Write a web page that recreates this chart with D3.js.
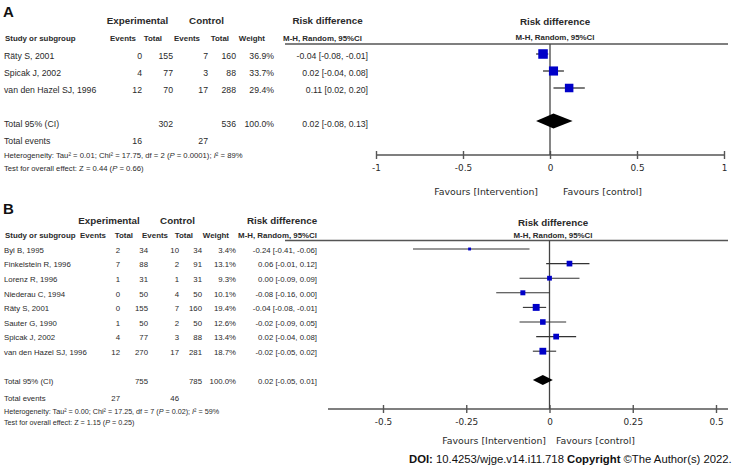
<!DOCTYPE html>
<html><head><meta charset="utf-8">
<script src="https://cdn.jsdelivr.net/npm/d3@7"></script>
<style>body{margin:0;background:#fff} svg{display:block}</style>
</head><body><svg id="c" width="734" height="470"></svg>
<script>
// ---------- Panel A data ----------
const studiesA = ["Räty S, 2001", "Spicak  J, 2002", "van den Hazel SJ, 1996"];
const expEventsA = [0, 4, 12];
const expTotalA = [155, 77, 70];
const ctrlEventsA = [7, 3, 17];
const ctrlTotalA = [160, 88, 288];
const weightA = [36.9, 33.7, 29.4];
const rdA = [-0.04, 0.02, 0.11];
const ciLowA = [-0.08, -0.04, 0.02];
const ciHighA = [-0.01, 0.08, 0.20];
const totalsA = [302, 536];
const totalEventsA = [16, 27];
const pooledA = [0.02, -0.08, 0.13];       // printed estimate [low, high]
const pooledMarkA = [0.02, -0.08, 0.13];   // drawn diamond
const hetA = ["0.01", "17.75", "2", "0.0001", "89%"];
const overallA = ["0.44", "0.66"];
const ticksA = [-1, -0.5, 0, 0.5, 1];

// ---------- Panel B data ----------
const studiesB = ["Byl B, 1995", "Finkelstein R, 1996", "Lorenz R, 1996", "Niederau C, 1994",
  "Räty S, 2001", "Sauter G, 1990", "Spicak J, 2002", "van den Hazel SJ, 1996"];
const expEventsB = [2, 7, 1, 0, 0, 1, 4, 12];
const expTotalB = [34, 88, 31, 50, 155, 50, 77, 270];
const ctrlEventsB = [10, 2, 1, 4, 7, 2, 3, 17];
const ctrlTotalB = [34, 91, 31, 50, 160, 50, 88, 281];
const weightB = [3.4, 13.1, 9.3, 10.1, 19.4, 12.6, 13.4, 18.7];
const rdB = [-0.24, 0.06, 0.00, -0.08, -0.04, -0.02, 0.02, -0.02];
const ciLowB = [-0.41, -0.01, -0.09, -0.16, -0.08, -0.09, -0.04, -0.05];
const ciHighB = [-0.06, 0.12, 0.09, 0.00, -0.01, 0.05, 0.08, 0.02];
const totalsB = [755, 785];
const totalEventsB = [27, 46];
const pooledB = [0.02, -0.05, 0.01];
const pooledMarkB = [-0.02, -0.05, 0.01];
const hetB = ["0.00", "17.25", "7", "0.02", "59%"];
const overallB = ["1.15", "0.25"];
const ticksB = [-0.5, -0.25, 0, 0.25, 0.5];

const svg = d3.select("#c");
const TXT = "#2a2a2a";
const BODY = "'Liberation Sans', Arial, sans-serif";
const AXF = "'DejaVu Sans', Verdana, sans-serif";
const sq = d3.scaleSqrt().domain([0, 100]).range([0, 15.7]);
const f2 = v => v.toFixed(2);
const ciText = (e, l, h) => `${f2(e)} [${f2(l)}, ${f2(h)}]`;

function text(g, x, y, s, o = {}) {
  return g.append("text").attr("x", x).attr("y", y).text(s)
    .attr("font-family", o.family || BODY).attr("font-size", o.size || 8.5)
    .attr("font-weight", o.bold ? "bold" : null)
    .attr("text-anchor", o.anchor || "start").attr("fill", o.fill || TXT);
}

function panel(d, L) {
  const g = svg.append("g");
  text(g, 3, L.letterY, d.letter, {size: 15, bold: true, fill: "#111"});
  // group headers
  text(g, L.grp[0], L.groupY, "Experimental", {size: 9.8, bold: true, anchor: "middle"});
  text(g, L.grp[1], L.groupY, "Control", {size: 9.8, bold: true, anchor: "middle"});
  text(g, L.grp[2], L.groupY, "Risk difference", {size: 9.8, bold: true, anchor: "middle"});
  text(g, 5, L.subY, "Study or subgroup", {size: 7.9, bold: true});
  ["Events", "Total", "Events", "Total", "Weight"].forEach((s, i) =>
    text(g, L.sub[i], L.subY, s, {size: 7.9, bold: true, anchor: "end"}));
  text(g, L.sub[5], L.subY, "M-H, Random, 95%Cl", {size: 7.9, bold: true, anchor: "end"});
  g.append("line").attr("x1", L.lineX0).attr("x2", 728).attr("y1", L.lineY).attr("y2", L.lineY)
    .attr("stroke", "#555").attr("stroke-width", 1.4);

  // plot headers
  text(g, L.plotHX, L.plotGroupY, "Risk difference", {size: 9.8, bold: true, anchor: "middle"});
  text(g, L.plotHX, L.plotSubY, "M-H, Random, 95%Cl", {size: 7.9, bold: true, anchor: "middle"});

  const x = d3.scaleLinear().domain([d.ticks[0], d.ticks[d.ticks.length - 1]]).range(L.xr);
  const C = L.cols;
  d.studies.forEach((s, i) => {
    const y = L.rowY(i) + L.dy;
    text(g, L.textX, y, s, {size: L.rowSize});
    text(g, C[0], y, d.expEv[i], {size: L.rowSize, anchor: "end"});
    text(g, C[1], y, d.expTot[i], {size: L.rowSize, anchor: "end"});
    text(g, C[2], y, d.ctrlEv[i], {size: L.rowSize, anchor: "end"});
    text(g, C[3], y, d.ctrlTot[i], {size: L.rowSize, anchor: "end"});
    text(g, C[4], y, d.weight[i].toFixed(1) + "%", {size: L.rowSize, anchor: "end"});
    text(g, C[5], y, ciText(d.rd[i], d.lo[i], d.hi[i]), {size: L.rowSize, anchor: "end"});
  });
  // totals
  const ty = L.totalTextY;
  text(g, L.textX, ty, "Total 95% (CI)", {size: L.rowSize});
  text(g, C[1], ty, d.totals[0], {size: L.rowSize, anchor: "end"});
  text(g, C[3], ty, d.totals[1], {size: L.rowSize, anchor: "end"});
  text(g, C[4], ty, "100.0%", {size: L.rowSize, anchor: "end"});
  text(g, C[5], ty, ciText(d.pooled[0], d.pooled[1], d.pooled[2]), {size: L.rowSize, anchor: "end"});
  text(g, L.textX, L.totEvY, "Total events", {size: L.rowSize});
  text(g, C[0], L.totEvY, d.totEv[0], {size: L.rowSize, anchor: "end"});
  text(g, C[2], L.totEvY, d.totEv[1], {size: L.rowSize, anchor: "end"});
  const h = text(g, L.textX, L.hetY, "", {size: L.hetSize});
  h.append("tspan").text(`Heterogeneity: Tau² = ${d.het[0]}; Chi² = ${d.het[1]}, df = ${d.het[2]} (`);
  h.append("tspan").attr("font-style", "italic").text("P");
  h.append("tspan").text(` = ${d.het[3]}); `);
  h.append("tspan").attr("font-style", "italic").text("I");
  h.append("tspan").text(`² = ${d.het[4]}`);
  const t = text(g, L.textX, L.testY, "", {size: L.hetSize});
  t.append("tspan").text(`Test for overall effect: Z = ${d.overall[0]} (`);
  t.append("tspan").attr("font-style", "italic").text("P");
  t.append("tspan").text(` = ${d.overall[1]})`);

  // axis
  g.append("line").attr("x1", L.axX[0]).attr("x2", L.axX[1]).attr("y1", L.axisY).attr("y2", L.axisY)
    .attr("stroke", "#555").attr("stroke-width", 1.4);
  const ax = g.append("g").attr("transform", `translate(0,${L.axisY})`)
    .call(d3.axisBottom(x).tickValues(d.ticks).tickSizeOuter(0).tickSizeInner(4).tickPadding(6)
      .tickFormat(v => String(v)));
  ax.select(".domain").remove();
  ax.selectAll(".tick line").attr("y1", -4).attr("y2", 4).attr("stroke", "#555").attr("stroke-width", 1.4);
  ax.selectAll(".tick text").attr("font-family", AXF).attr("font-size", 8.9).attr("fill", TXT);
  // zero line
  g.append("line").attr("x1", x(0)).attr("x2", x(0)).attr("y1", L.lineY).attr("y2", L.axisY)
    .attr("stroke", "#444").attr("stroke-width", 1.3);
  text(g, L.favL, L.favY, "Favours [Intervention]", {family: AXF, size: 9.4, anchor: "end"});
  text(g, L.favR, L.favY, "Favours [control]", {family: AXF, size: 9.4});

  // CIs and squares
  d.studies.forEach((s, i) => {
    const y = L.rowY(i);
    g.append("line").attr("x1", x(d.lo[i])).attr("x2", x(d.hi[i])).attr("y1", y).attr("y2", y)
      .attr("stroke", "#333").attr("stroke-width", L.ciW);
    const w = sq(d.weight[i]);
    g.append("rect").attr("x", x(d.rd[i]) - w / 2).attr("y", y - w / 2).attr("width", w).attr("height", w)
      .attr("fill", "#0000c8");
  });
  const pm = d.pooledMark, dyv = L.totalY;
  g.append("path").attr("d", `M${x(pm[1])},${dyv}L${x(pm[0])},${dyv - L.diaH}L${x(pm[2])},${dyv}L${x(pm[0])},${dyv + L.diaH}Z`)
    .attr("fill", "#000");
}

panel({letter: "A", studies: studiesA, expEv: expEventsA, expTot: expTotalA, ctrlEv: ctrlEventsA,
  ctrlTot: ctrlTotalA, weight: weightA, rd: rdA, lo: ciLowA, hi: ciHighA, totals: totalsA,
  totEv: totalEventsA, pooled: pooledA, pooledMark: pooledMarkA, het: hetA, overall: overallA, ticks: ticksA},
  {letterY: 17, groupY: 24, subY: 41, lineY: 44, lineX0: 285, plotGroupY: 24.5, plotSubY: 39.5,
   grp: [137.5, 206.5, 327.5], sub: [136, 162, 200, 229, 265, 362],
   cols: [142, 173, 208, 236, 274, 368], textX: 4, rowSize: 8.7, hetSize: 7.7,
   rowY: i => [54, 71, 88][i], dy: 5, totalY: 121, totalTextY: 127, totEvY: 144, hetY: 158, testY: 171,
   xr: [376, 724], axX: [376, 724], axisY: 155, favY: 195, favL: 538, favR: 563, plotHX: 555,
   ciW: 1.3, diaH: 7.5});

panel({letter: "B", studies: studiesB, expEv: expEventsB, expTot: expTotalB, ctrlEv: ctrlEventsB,
  ctrlTot: ctrlTotalB, weight: weightB, rd: rdB, lo: ciLowB, hi: ciHighB, totals: totalsB,
  totEv: totalEventsB, pooled: pooledB, pooledMark: pooledMarkB, het: hetB, overall: overallB, ticks: ticksB},
  {letterY: 214, groupY: 223.5, subY: 238, lineY: 240.5, lineX0: 285, plotGroupY: 225.5, plotSubY: 238,
   grp: [109, 177.5, 282], sub: [106, 133, 168, 193, 229, 317],
   cols: [120, 148, 179, 202, 236, 317], textX: 4, rowSize: 7.8, hetSize: 7.2,
   rowY: i => 249 + i * 14.6, dy: 3.8, totalY: 380, totalTextY: 384, totEvY: 401, hetY: 414, testY: 425,
   xr: [383, 716], axX: [328, 728], axisY: 409, favY: 444, favL: 546, favR: 556, plotHX: 553,
   ciW: 1.1, diaH: 5});

// footer
const ft = svg.append("text").attr("x", 409).attr("y", 463).attr("font-family", BODY)
  .attr("font-size", 11.3).attr("fill", "#111");
ft.append("tspan").attr("font-weight", "bold").text("DOI:");
ft.append("tspan").text(" 10.4253/wjge.v14.i11.718 ");
ft.append("tspan").attr("font-weight", "bold").text("Copyright");
ft.append("tspan").text(" ©The Author(s) 2022.");
</script></body></html>
